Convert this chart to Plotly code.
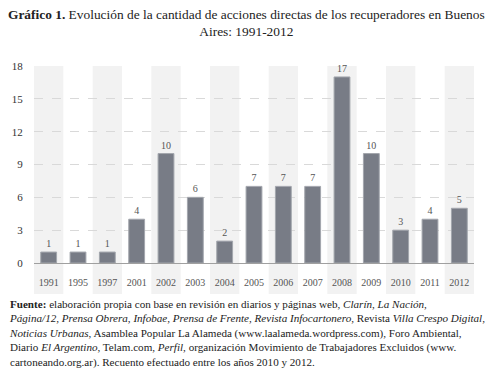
import plotly.graph_objects as go

years = ["1991", "1995", "1997", "2001", "2002", "2003", "2004", "2005",
         "2006", "2007", "2008", "2009", "2010", "2011", "2012"]
acciones = [1, 1, 1, 4, 10, 6, 2, 7, 7, 7, 17, 10, 3, 4, 5]
y_ticks = [0, 3, 6, 9, 12, 15, 18]

FONT = "Liberation Serif"
W, H = 488, 373
L, R, T, B = 30, 14, 66, 110
plot_w = W - L - R
plot_h = H - T - B


def px_to_paper_y(py):
    return (H - B - py) / plot_h


def px_to_paper_x(px):
    return (px - L) / plot_w


fig = go.Figure()
fig.add_trace(go.Bar(
    x=years, y=acciones, width=0.54,
    marker=dict(color="#787c86", line=dict(color="#a3a6ad", width=1)),
    text=[str(v) for v in acciones], textposition="outside",
    textfont=dict(family=FONT, size=10, color="#555555"),
    cliponaxis=False, hoverinfo="skip",
))

shapes = []
for i in range(0, len(years), 2):
    shapes.append(dict(type="rect", xref="x", yref="paper",
                       x0=i - 0.5, x1=i + 0.5,
                       y0=px_to_paper_y(294), y1=1,
                       fillcolor="#f2f2f2", line=dict(width=0), layer="below"))

title_text = ("<b>Gráfico 1.</b> Evolución de la cantidad de acciones directas de los recuperadores en Buenos"
              "<br>Aires: 1991-2012")

footnote = (
    "<b>Fuente:</b> elaboración propia con base en revisión en diarios y páginas web, <i>Clarín</i>, <i>La Nación</i>,<br>"
    "<i>Página/12</i>, <i>Prensa Obrera</i>, <i>Infobae</i>, <i>Prensa de Frente</i>, <i>Revista Infocartonero</i>, Revista <i>Villa Crespo Digital</i>,<br>"
    "<i>Noticias Urbanas</i>, Asamblea Popular La Alameda (www.laalameda.wordpress.com), Foro Ambiental,<br>"
    "Diario <i>El Argentino</i>, Telam.com, <i>Perfil</i>, organización Movimiento de Trabajadores Excluidos (www.<br>"
    "cartoneando.org.ar). Recuento efectuado entre los años 2010 y 2012."
)

fig.update_layout(
    width=W, height=H,
    margin=dict(l=L, r=R, t=T, b=B),
    paper_bgcolor="white", plot_bgcolor="rgba(0,0,0,0)",
    showlegend=False,
    font=dict(family=FONT, color="#222222"),
    shapes=shapes,
    annotations=[
        dict(text=title_text, xref="paper", yref="paper",
             x=px_to_paper_x(W / 2), y=px_to_paper_y(5),
             xanchor="center", yanchor="top", align="center", showarrow=False,
             font=dict(family=FONT, size=13.4, color="#222222")),
        dict(text=footnote, xref="paper", yref="paper",
             x=px_to_paper_x(3), y=px_to_paper_y(296),
             xanchor="left", yanchor="top", align="left", showarrow=False,
             font=dict(family=FONT, size=11.1, color="#222222")),
    ],
)

fig.update_xaxes(
    type="category", showgrid=False, zeroline=False, showline=False,
    ticks="outside", ticklen=10, tickcolor="rgba(0,0,0,0)",
    tickfont=dict(family=FONT, size=10, color="#555555"),
)
fig.update_yaxes(
    range=[0, 18], tickvals=y_ticks,
    showgrid=True, gridcolor="#d9d9d9", griddash="dash", gridwidth=1,
    zeroline=True, zerolinecolor="#a0a0a0", zerolinewidth=1,
    showline=False,
    ticks="outside", ticklen=8, tickcolor="rgba(0,0,0,0)",
    tickfont=dict(family=FONT, size=11, color="#333333"),
)

fig.write_html("out.html", config={"displayModeBar": False},
               post_script="document.body.style.margin='0';")
